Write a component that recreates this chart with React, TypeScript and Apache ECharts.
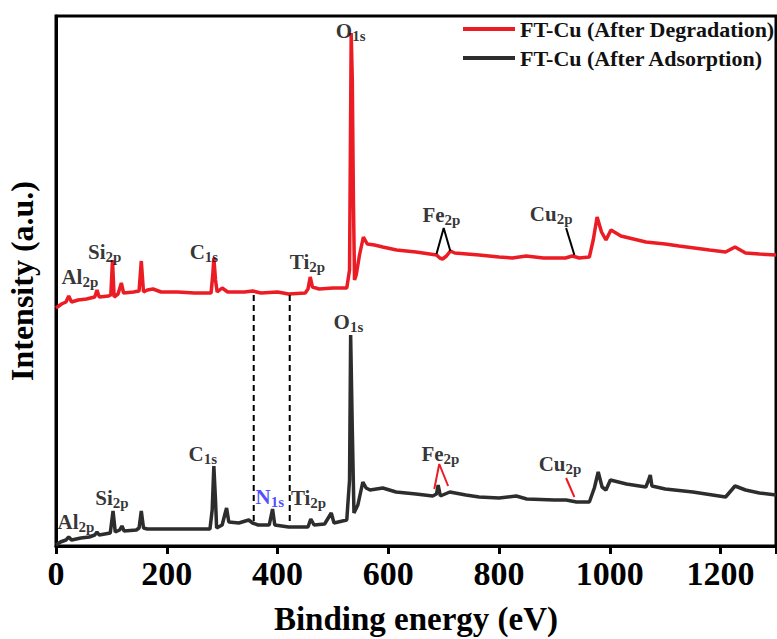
import React, { useEffect, useRef } from "react";
import * as echarts from "echarts";

// Binding energy (eV) and intensity (a.u.)
const degradationBE = [0, 10, 18, 23, 28, 40, 55, 70, 74, 78, 95, 99, 102, 105, 112, 118, 122, 140, 150, 154, 158, 165, 175, 190, 220, 250, 280, 283, 285, 288, 291, 300, 310, 340, 355, 370, 400, 420, 450, 455, 459, 463, 475, 500, 525, 530, 533, 535, 537, 539, 542, 548, 555, 562, 575, 590, 615, 650, 687, 693, 698, 705, 712, 720, 764, 800, 824, 849, 880, 920, 932, 945, 963, 970, 977, 985, 993, 1002, 1020, 1065, 1100, 1125, 1180, 1209, 1226, 1245, 1270, 1300];
const degradationI = [238, 242, 244, 250, 244, 246, 247, 249, 256, 249, 250, 251, 286, 249, 252, 263, 253, 254, 255, 285, 254, 256, 257, 254, 254, 253, 253, 271, 288, 266, 254, 258, 254, 254, 255, 253, 254, 252, 253, 257, 269, 259, 257, 258, 258, 276, 513, 466, 346, 266, 271, 291, 309, 302, 301, 299, 296, 294, 291, 288, 287, 290, 295, 293, 291, 289, 288, 290, 288, 288, 290, 288, 289, 306, 329, 314, 306, 316, 310, 304, 302, 300, 296, 294, 299, 293, 292, 291];

const adsorptionBE = [0, 8, 18, 23, 28, 45, 60, 70, 74, 78, 98, 103, 107, 115, 119, 123, 145, 150, 154, 158, 165, 200, 250, 278, 282, 285, 288, 290, 300, 306, 308, 312, 330, 348, 355, 365, 385, 391, 395, 420, 455, 460, 466, 485, 497, 502, 525, 530, 532, 535, 538, 545, 554, 560, 567, 590, 614, 650, 680, 687, 690, 694, 711, 740, 764, 800, 831, 850, 900, 921, 940, 963, 972, 979, 986, 993, 1001, 1030, 1065, 1070, 1073, 1076, 1100, 1150, 1209, 1226, 1245, 1270, 1300];
const adsorptionI = [1, 4, 6, 9, 6, 8, 9, 11, 14, 11, 13, 35, 14, 16, 20, 15, 16, 18, 35, 18, 17, 17, 17, 17, 36, 80, 46, 18, 21, 34, 38, 24, 23, 26, 23, 21, 21, 37, 21, 19, 19, 27, 21, 22, 33, 23, 26, 66, 211, 116, 33, 41, 64, 58, 56, 58, 54, 52, 50, 52, 61, 50, 54, 51, 49, 48, 50, 47, 46, 46, 44, 44, 58, 74, 59, 56, 66, 62, 59, 66, 71, 60, 57, 54, 49, 60, 56, 53, 51];

const xTicks = [0, 200, 400, 600, 800, 1000, 1200];

// Peak annotations: [element, subscript, BE, intensity]
const degradationPeaks: [string, string, number, number][] = [
  ["Al", "2p", 43, 269],
  ["Si", "2p", 88, 294],
  ["C", "1s", 267, 294],
  ["Ti", "2p", 454, 284],
  ["O", "1s", 532, 515],
  ["Fe", "2p", 696, 331],
  ["Cu", "2p", 894, 332],
];
const adsorptionPeaks: [string, string, number, number][] = [
  ["Al", "2p", 36, 24],
  ["Si", "2p", 101, 48],
  ["C", "1s", 265, 92],
  ["N", "1s", 386, 49],
  ["Ti", "2p", 456, 48],
  ["O", "1s", 528, 224],
  ["Fe", "2p", 694, 92],
  ["Cu", "2p", 910, 82],
];

// Pointer lines
const redFePointer = [[687, 292], [700, 318], [712, 295]];
const redCuPointer = [[921, 318], [936, 291]];
const blackFePointer = [[683, 57], [692, 82], [708, 60]];
const blackCuPointer = [[921, 68], [936, 49]];
const dashedA = [[357, 251], [357, 24]];
const dashedB = [[422, 251], [422, 24]];

const FONT = "'Liberation Serif', 'Times New Roman', serif";
const RED = "#ec1c24";
const DARK = "#2d2d2d";

function zip(a: number[], b: number[]) {
  return a.map((v, i) => [v, b[i]]);
}

function peakSeries(peaks: [string, string, number, number][]) {
  return {
    type: "scatter",
    symbolSize: 0,
    silent: true,
    data: peaks.map((p) => ({
      value: [p[2], p[3]],
      label: p[0] === "N" ? { color: "#1f1fff" } : undefined,
      el: p[0],
      sub: p[1],
    })),
    label: {
      show: true,
      position: "inside",
      color: "#000",
      formatter: (params: any) => `{b|${params.data.el}}{s|${params.data.sub}}`,
      rich: {
        b: { fontSize: 21, fontWeight: "bold", fontFamily: FONT, lineHeight: 21 },
        s: { fontSize: 15, fontWeight: "bold", fontFamily: FONT, lineHeight: 15, padding: [10, 0, 0, 0] },
      },
    },
    z: 10,
  };
}

function lineSeg(data: number[][], color: string, dashed = false) {
  return {
    type: "line",
    data,
    symbol: "none",
    silent: true,
    lineStyle: { color, width: 2, type: dashed ? [6, 4] : "solid" },
    z: 5,
  };
}

export default function App() {
  const ref = useRef<HTMLDivElement>(null);
  useEffect(() => {
    document.body.style.margin = "0";
    const chart = echarts.init(ref.current!, null, { renderer: "svg" });
    chart.setOption({
      animation: false,
      backgroundColor: "#fff",
      grid: {
        left: 56,
        right: 1,
        top: 16,
        bottom: 93,
        show: true,
        borderColor: "#000",
        borderWidth: 3,
        containLabel: false,
        outerBoundsMode: "none",
      },
      legend: {
        orient: "vertical",
        left: 458,
        top: 13,
        icon: "rect",
        itemWidth: 52,
        itemHeight: 4,
        itemGap: 7,
        data: ["FT-Cu (After Degradation)", "FT-Cu (After Adsorption)"],
        textStyle: { fontFamily: FONT, fontSize: 22, fontWeight: "bold", color: "#111" },
      },
      xAxis: {
        type: "value",
        min: 0,
        max: 1300,
        interval: 200,
        name: "Binding energy (eV)",
        nameLocation: "middle",
        nameGap: 56,
        nameTextStyle: { fontFamily: FONT, fontSize: 33, fontWeight: "bold", color: "#000" },
        axisLine: { show: true, lineStyle: { color: "#000", width: 3 } },
        axisTick: { show: true, inside: false, length: 8, lineStyle: { color: "#000", width: 3 } },
        axisLabel: {
          fontFamily: FONT,
          fontSize: 34,
          fontWeight: "bold",
          color: "#000",
          margin: 10,
          customValues: xTicks,
          formatter: (v: number) => String(v),
        },
        splitLine: { show: false },
      },
      yAxis: {
        type: "value",
        min: 0,
        max: 530,
        name: "Intensity (a.u.)",
        nameLocation: "middle",
        nameGap: 18,
        nameRotate: 90,
        nameTextStyle: { fontFamily: FONT, fontSize: 32, fontWeight: "bold", color: "#000" },
        axisLine: { show: true, lineStyle: { color: "#000", width: 3 } },
        axisTick: { show: false },
        axisLabel: { show: false },
        splitLine: { show: false },
      },
      series: [
        {
          name: "FT-Cu (After Degradation)",
          type: "line",
          data: zip(degradationBE, degradationI),
          symbol: "none",
          color: RED,
          lineStyle: { color: RED, width: 3.5 },
          z: 3,
        },
        {
          name: "FT-Cu (After Adsorption)",
          type: "line",
          data: zip(adsorptionBE, adsorptionI),
          symbol: "none",
          color: DARK,
          lineStyle: { color: DARK, width: 3.5 },
          z: 3,
        },
        lineSeg(dashedA, "#000", true),
        lineSeg(dashedB, "#000", true),
        lineSeg(redFePointer, "#000"),
        lineSeg(redCuPointer, "#000"),
        lineSeg(blackFePointer, RED),
        lineSeg(blackCuPointer, RED),
        peakSeries(degradationPeaks),
        peakSeries(adsorptionPeaks),
      ],
    });
    return () => chart.dispose();
  }, []);
  return <div ref={ref} style={{ width: 777, height: 639 }} />;
}
